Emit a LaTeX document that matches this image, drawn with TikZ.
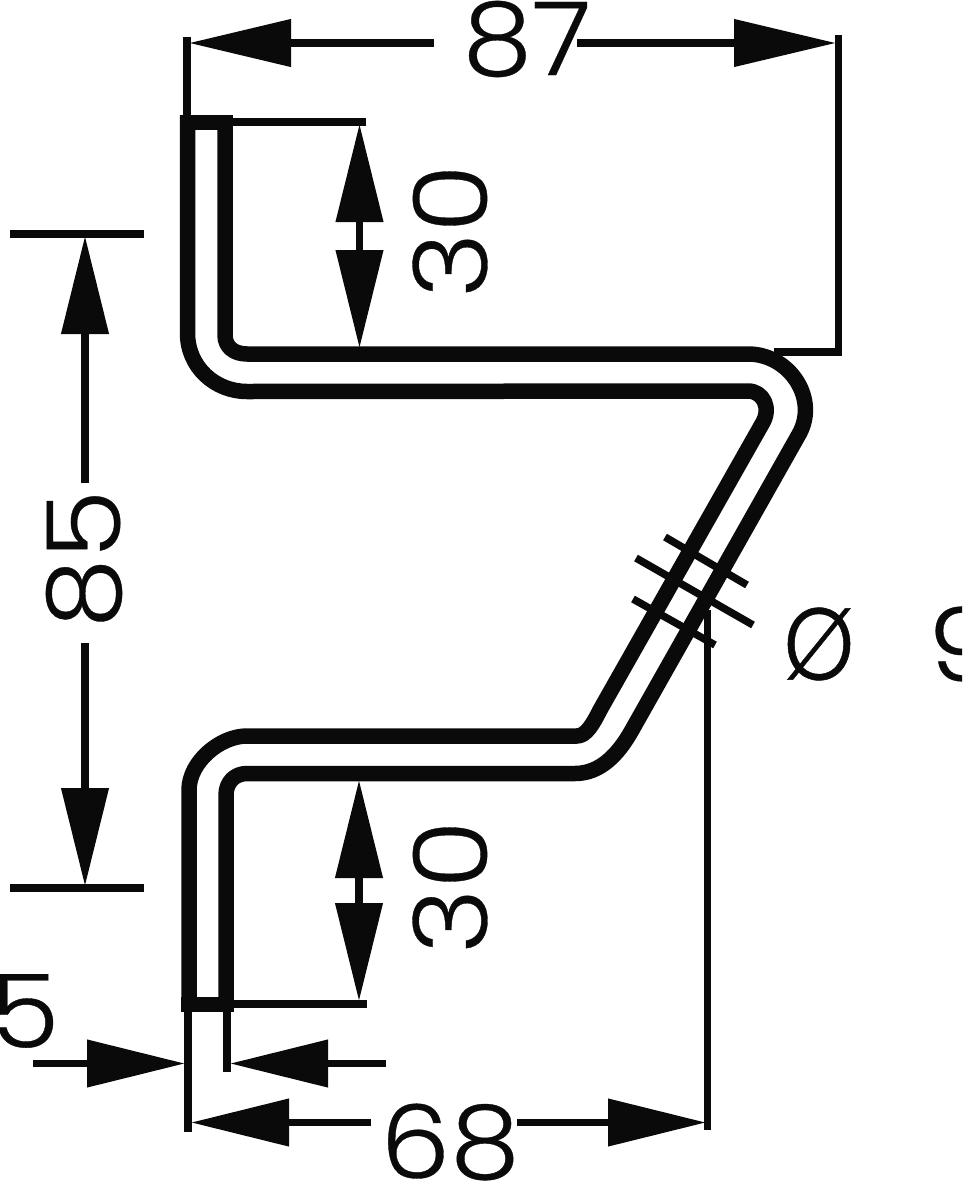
\documentclass[tikz,border=0pt]{standalone}
\usepackage{fontspec}
\setmainfont{Poppins}[UprightFont=* Light]
\newfontfamily\digitfont{Poppins Light}[FakeStretch=1.09,FakeBold=0.35]
\newfontfamily\slashfont{Poppins Light}[FakeStretch=0.88,FakeBold=0.5]
\usetikzlibrary{arrows.meta}
\definecolor{ink}{RGB}{10,10,10}
\tikzset{
  pipe/.style={draw=ink,line width=15.5pt,line join=round},
  thin line/.style={draw=ink,line width=7.5pt},
  dim/.style={draw=ink,line width=7.5pt,-{Triangle[length=98pt,width=46pt]},shorten >=-1pt},
  dim long/.style={draw=ink,line width=7.5pt,-{Triangle[length=102pt,width=46pt]},shorten >=-1pt},
  figure/.style={font=\fontsize{102}{102}\digitfont,text=ink,inner sep=0pt,outer sep=0pt}
}
\begin{document}
\begin{tikzpicture}[x=1pt,y=-1pt]
\useasboundingbox (0,0) rectangle (962,1181);
\clip (0,0) rectangle (962,1181);
% tube walls
\draw[pipe] (187.5,115) -- (187.5,333) .. controls (187.5,367) and (215,391.5) .. (247,391.5)
  -- (748,391) .. controls (763,391) and (772,408) .. (762,424)
  -- (600,710) .. controls (593,724) and (586,736) .. (577,736)
  -- (247,736) .. controls (220,736) and (189,762) .. (189,790) -- (189,1005);
\draw[pipe] (225,115) -- (225,335) .. controls (225,347) and (234,354) .. (247,354)
  -- (748,354) .. controls (790,354) and (820,400) .. (798,436)
  -- (632,730) .. controls (618,755) and (600,773.5) .. (575,773.5)
  -- (247,773.5) .. controls (235,773.5) and (226,782) .. (226,795) -- (226,1005);
\draw[pipe] (180,122.5) -- (233,122.5);
\draw[pipe] (181,1004.5) -- (234,1004.5);
% extension lines
\draw[thin line] (187,37) -- (187,115);
\draw[thin line] (838.5,35) -- (838.5,352) -- (774,352);
\draw[thin line] (233,122) -- (366,122);
\draw[thin line] (10,234) -- (144,234);
\draw[thin line] (10,888) -- (144,888);
\draw[thin line] (234,1004) -- (367,1004);
\draw[thin line] (188,1012) -- (188,1132);
\draw[thin line] (227,1012) -- (227,1072);
\draw[thin line] (707.5,610) -- (707.5,1130);
% diameter marks
\draw[thin line] (665,537) -- (747,585);
\draw[thin line] (636,558) -- (753,625);
\draw[thin line] (633,599) -- (715,645);
% dimension arrows
\draw[dim long] (434,43) -- (190,43);
\draw[dim long] (577,43) -- (835,43);
\draw[dim] (359.5,235) -- (359.5,125);
\draw[dim] (359.5,235) -- (359.5,347);
\draw[dim] (359,890) -- (359,781);
\draw[dim] (359,890) -- (359,1000);
\draw[dim] (85,483) -- (85,237);
\draw[dim] (85,643) -- (85,885);
\draw[dim] (33,1063.5) -- (184,1063.5);
\draw[dim] (386,1063.5) -- (231,1063.5);
\draw[dim] (371,1122.5) -- (192,1122.5);
\draw[dim] (517,1122.5) -- (705,1122.5);
% figures
\node[figure] (d87) at (527,39) {87};
\node[figure,rotate=90] (d30a) at (450,231) {30};
\node[figure,rotate=90] (d85) at (84,559) {85};
\node[figure,rotate=90] (d30b) at (450,887) {30};
\node[figure] (d68) at (450,1142) {68};
\node[figure] (d5) at (25,1011) {5};
\node[figure,font=\fontsize{102}{102}\slashfont] (dphi) at (819,644) {Ø};
\node[figure,anchor=west] (d9) at (928,644) {9};
\end{tikzpicture}
\end{document}
